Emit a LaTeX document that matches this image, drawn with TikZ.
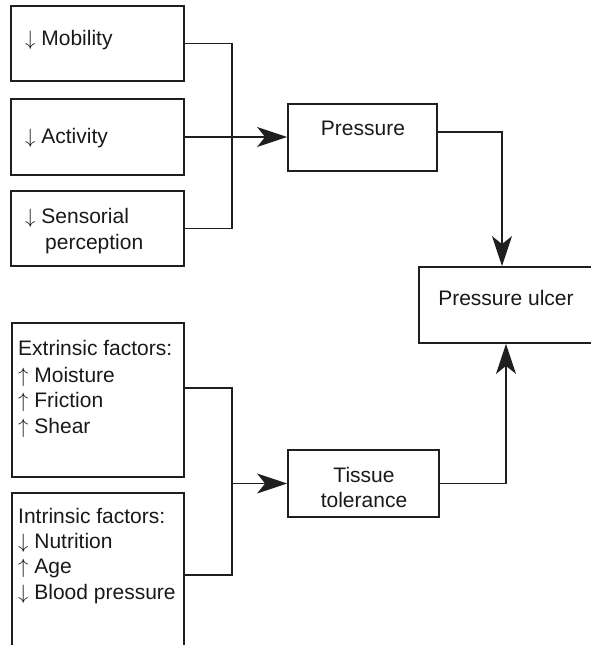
\documentclass[tikz,border=0pt]{standalone}
\usepackage{fontspec}
\setmainfont{Liberation Sans}
\usetikzlibrary{arrows.meta,calc}
\begin{document}
\begin{tikzpicture}[x=1pt,y=-1pt,
  box/.style={draw=black!88,line width=1.8pt,rectangle,inner sep=0pt},
  lbl/.style={anchor=base west,inner sep=0pt,font=\fontsize{21}{25}\selectfont,text=black!90},
  clbl/.style={anchor=base,inner sep=0pt,font=\fontsize{21}{25}\selectfont,text=black!90},
  conn/.style={draw=black!88,line width=1.7pt},
  arr/.style={conn,-{Stealth[length=30pt,width=20pt,inset=8pt]}}]
\useasboundingbox (0,0) rectangle (590,645);

% boxes
\node[box,minimum width=173pt,minimum height=75pt] (mob) at (97.5,43.5) {};
\node[box,minimum width=173pt,minimum height=76pt] (act) at (97.5,137) {};
\node[box,minimum width=173pt,minimum height=75pt] (sen) at (97.5,228.5) {};
\node[box,minimum width=149pt,minimum height=67pt] (pres) at (362.5,137.5) {};
\node[box,minimum width=221pt,minimum height=76pt] (ulc) at (529.5,305) {};
\node[box,minimum width=172pt,minimum height=154pt] (ext) at (98,400) {};
\node[box,minimum width=172pt,minimum height=207pt] (int) at (98,596.5) {};
\node[box,minimum width=151pt,minimum height=67pt] (tis) at (363.5,483.5) {};

% texts
\node[lbl] (tmob) at (25,45) {$\downarrow$ Mobility};
\node[lbl] (tact) at (25,143) {$\downarrow$ Activity};
\node[lbl] (tsen) at (25,223) {$\downarrow$ Sensorial};
\node[lbl] (tsen2) at (45,249) {perception};
\node[clbl] (tpres) at (363,135) {Pressure};
\node[clbl] (tulc) at (506,305) {Pressure ulcer};
\node[clbl] (ttis) at (364,482) {Tissue};
\node[clbl] (ttis2) at (364,507) {tolerance};
\node[lbl] (te1) at (18,355) {Extrinsic factors:};
\node[lbl] (te2) at (18,382) {$\uparrow$ Moisture};
\node[lbl] (te3) at (18,407) {$\uparrow$ Friction};
\node[lbl] (te4) at (18,433) {$\uparrow$ Shear};
\node[lbl] (ti1) at (18,523) {Intrinsic factors:};
\node[lbl] (ti2) at (18,548) {$\downarrow$ Nutrition};
\node[lbl] (ti3) at (18,573) {$\uparrow$ Age};
\node[lbl] (ti4) at (18,599) {$\downarrow$ Blood pressure};

% helper coordinates
\coordinate (busA) at (232,0);
\coordinate (busB) at (232,0);
\coordinate (colA) at (502,0);
\coordinate (colB) at (506,0);

% connectors top
\draw[conn] (mob.east) -| (busA |- sen.east) -- (sen.east);
\draw[arr] (act.east) -- (act.east -| pres.west);
\draw[arr] ($(pres.north east)+(0,29)$) -| (colA |- ulc.north);

% connectors bottom
\draw[conn] ($(ext.north east)+(0,66)$) -| (busB |- {$(int.north east)+(0,83)$}) -- ($(int.north east)+(0,83)$);
\draw[arr] (busB |- tis.west) -- (tis.west);
\draw[arr] (tis.east) -| (colB |- ulc.south);
\end{tikzpicture}
\end{document}
